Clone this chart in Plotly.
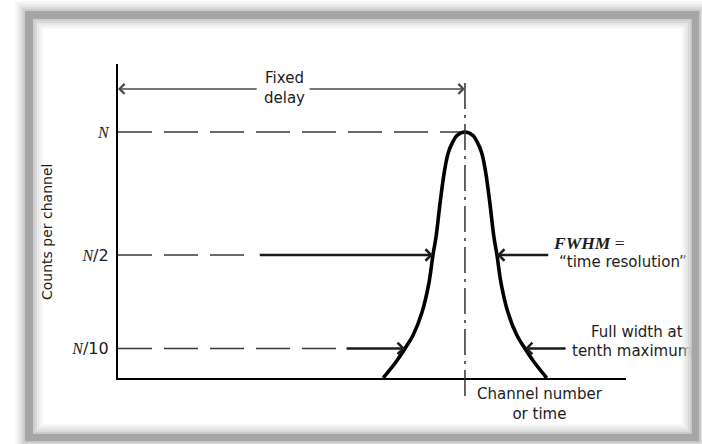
import plotly.graph_objects as go

# ---------------- data ----------------
# x: channel number (arbitrary units, axis spans 0..100), y: counts as a fraction of the peak N
curve_x = [52.2, 54.7, 56.5, 58.1, 59.8, 61.2, 62.0, 62.6, 63.4, 64.2, 65.0, 65.9, 66.7, 68.3,
           69.9, 70.7, 71.6, 72.4, 73.2, 74.0, 74.6, 75.4, 76.8, 78.5, 80.1, 81.9, 84.4]
curve_y = [0.0, 0.065, 0.12, 0.175, 0.264, 0.386, 0.5, 0.573, 0.711, 0.833, 0.915, 0.96, 0.985, 1.0,
           0.985, 0.96, 0.915, 0.833, 0.711, 0.573, 0.5, 0.386, 0.264, 0.175, 0.12, 0.065, 0.0]

level_values = [1.0, 0.5, 0.12]
level_labels = ["N", "N/2", "N/10"]
level_dash_end = [68.3, 26.9, 44.1]          # where the dashed guide stops
half_max_x = [62.0, 74.6]                     # curve crossings at N/2
tenth_max_x = [56.5, 80.1]                    # curve crossings at N/10
half_arrow_tails = [27.6, 85.0]
tenth_arrow_tails = [44.7, 88.4]
fixed_delay_y = 1.175
fixed_delay_gap = [27.6, 37.4]

X_RANGE = [0, 100]
Y_RANGE = [0, 1.2764]

# plot-area geometry (pixels) used only for decorations / text placement
L, R, T, B = 118, 626, 64, 378
W, H = 702, 444


def pxx(xp):
    return (xp - L) / (R - L)


def pxy(yp):
    return (B - yp) / (B - T)


def dx(xp):
    return X_RANGE[0] + pxx(xp) * (X_RANGE[1] - X_RANGE[0])


def dy(yp):
    return Y_RANGE[0] + pxy(yp) * (Y_RANGE[1] - Y_RANGE[0])


INK = "#1c1c1c"
SANS = "DejaVu Sans"
SERIF = "Liberation Serif"

peak_x = curve_x[curve_y.index(max(curve_y))]

fig = go.Figure()

# dashed guide lines at N, N/2, N/10
for lv, xe in zip(level_values, level_dash_end):
    fig.add_trace(go.Scatter(x=[0, xe], y=[lv, lv], mode="lines",
                             line=dict(color="#3a3a3a", width=1.6, dash="34px,12px"),
                             hoverinfo="skip", showlegend=False))

# the peak
fig.add_trace(go.Scatter(x=curve_x, y=curve_y, mode="lines",
                         line=dict(color="black", width=3.6, shape="spline", smoothing=1.0),
                         hoverinfo="skip", showlegend=False))

# right-hand labels drawn as text marks
right_labels = [("\u201ctime resolution\u201d", 559, 263),
                ("Full width at", 591, 333),
                ("tenth maximum", 572, 352)]
for txt, xp, yp in right_labels:
    fig.add_trace(go.Scatter(x=[dx(xp)], y=[dy(yp)], mode="text", text=[txt],
                             textposition="middle right", cliponaxis=False,
                             textfont=dict(family=SANS, size=15, color=INK),
                             hoverinfo="skip", showlegend=False))

annotations = []


def arrow(x_tip, y, x_tail, width=2.6, color=INK, size=0.85):
    return dict(x=x_tip, y=y, ax=x_tail, ay=y, xref="x", yref="y", axref="x", ayref="y",
                text="", showarrow=True, arrowhead=4, arrowsize=size, arrowwidth=width,
                arrowcolor=color, standoff=0, startstandoff=0)


# FWHM arrows
annotations.append(arrow(half_max_x[0], level_values[1], half_arrow_tails[0]))
annotations.append(arrow(half_max_x[1], level_values[1], half_arrow_tails[1]))
# FWTM arrows
annotations.append(arrow(tenth_max_x[0], level_values[2], tenth_arrow_tails[0]))
annotations.append(arrow(tenth_max_x[1], level_values[2], tenth_arrow_tails[1]))
# fixed delay double arrow
annotations.append(arrow(0, fixed_delay_y, fixed_delay_gap[0], width=1.5, color="#4a4a4a", size=1.3))
annotations.append(arrow(peak_x, fixed_delay_y, fixed_delay_gap[1], width=1.5, color="#4a4a4a", size=1.3))


def label(text, xp, yp, xanchor="left", size=15, family=SANS, angle=0):
    return dict(text=text, x=pxx(xp), y=pxy(yp), xref="paper", yref="paper",
                xanchor=xanchor, yanchor="middle", showarrow=False, textangle=angle,
                font=dict(family=family, size=size, color=INK))


annotations += [
    label("Fixed<br>delay", 284, 88, xanchor="center"),
    label("<b><i>FWHM</i></b> =", 551, 243, family=SERIF, size=17.5),
    label("Channel number<br>or time", 540, 404, xanchor="center"),
    label("Counts per channel", 47, 232, xanchor="center", size=14, angle=-90),
]

shapes = []

# vertical dash-dot line through the peak (extends below the axis)
shapes.append(dict(type="line", xref="x", yref="paper", x0=peak_x, x1=peak_x,
                   y0=pxy(396), y1=pxy(83), line=dict(color="#333333", width=1.5,
                                                      dash="26px,6px,3px,6px")))


# ---------- picture frame (decoration) ----------
def frame_rect(x0, y0, x1, y1, color, width):
    return dict(type="rect", xref="paper", yref="paper", x0=pxx(x0), x1=pxx(x1),
                y0=pxy(y1), y1=pxy(y0), line=dict(color=color, width=width),
                fillcolor="rgba(0,0,0,0)", layer="above")


# outer soft shadow
for off, col in [(9, "#f7f7f7"), (7, "#efefef"), (5, "#e6e6e6"), (3, "#dadada"), (1, "#cccccc")]:
    shapes.append(frame_rect(29 - 4 - off, 15 - 4 - off, 695.5 + 4 + off, 437.5 + 4 + off, col, 2))
# inner shadow
for off, col in [(9, "rgba(235,235,235,0.35)"), (7, "rgba(225,225,225,0.5)"),
                 (5, "rgba(215,215,215,0.6)"), (3, "#d9d9d9"), (1, "#cdcdcd")]:
    shapes.append(frame_rect(33 + off, 19 + off, 691.5 - off, 433.5 - off, col, 2))
# gray band
shapes.append(frame_rect(29, 15, 695.5, 437.5, "#a6a6a6", 8))

fig.update_layout(
    width=W, height=H, autosize=False,
    margin=dict(l=L, r=W - R, t=T, b=H - B, pad=0),
    paper_bgcolor="white", plot_bgcolor="rgba(0,0,0,0)",
    showlegend=False,
    xaxis=dict(range=X_RANGE, showgrid=False, zeroline=False, showticklabels=False,
               ticks="", showline=True, linecolor="black", linewidth=2.2, fixedrange=True),
    yaxis=dict(range=Y_RANGE, showgrid=False, zeroline=False, ticks="",
               tickvals=level_values,
               ticktext=[f"<i>{lab[0]}</i><span style='font-family:{SANS}'>{lab[1:]}</span>"
                         for lab in level_labels],
               tickfont=dict(family=SERIF, size=16, color=INK),
               ticklabelstandoff=4,
               showline=True, linecolor="black", linewidth=2.2, fixedrange=True),
    annotations=annotations,
    shapes=shapes,
)

fig.write_html("out.html", config={"displayModeBar": False},
               post_script="document.body.style.margin='0';document.body.style.overflow='hidden';")
